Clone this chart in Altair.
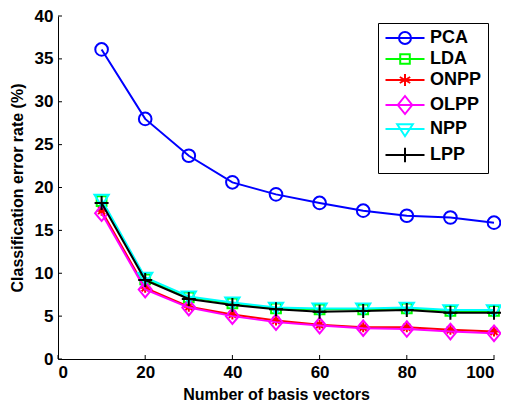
import altair as alt
import pandas as pd

x_vals = [10, 20, 30, 40, 50, 60, 70, 80, 90, 100]
methods = ["PCA", "LDA", "ONPP", "OLPP", "NPP", "LPP"]
pca = [36.1, 28.0, 23.7, 20.6, 19.2, 18.2, 17.3, 16.7, 16.5, 15.9]
lda = [18.4, 9.3, 7.2, 6.5, 5.9, 5.8, 5.8, 5.9, 5.6, 5.6]
onpp = [17.3, 8.3, 6.1, 5.2, 4.5, 4.0, 3.7, 3.7, 3.4, 3.2]
olpp = [17.0, 8.1, 6.0, 5.0, 4.3, 3.9, 3.6, 3.5, 3.2, 3.0]
npp = [18.6, 9.5, 7.3, 6.6, 6.0, 5.9, 5.9, 6.0, 5.7, 5.7]
lpp = [18.2, 9.2, 7.0, 6.3, 5.8, 5.5, 5.6, 5.7, 5.4, 5.4]
colors = ["#0000ff", "#00ff00", "#ff0000", "#ff00ff", "#00ffff", "#000000"]
x_ticks = [0, 20, 40, 60, 80, 100]
y_ticks = [0, 5, 10, 15, 20, 25, 30, 35, 40]

series = [pca, lda, onpp, olpp, npp, lpp]
rows = []
for m, vals in zip(methods, series):
    for xv, yv in zip(x_vals, vals):
        rows.append({"x": xv, "y": yv, "method": m})
df = pd.DataFrame(rows)

FONT = "Liberation Sans"

# marker shapes for the plot
marker_paths = [
    "circle",
    "M-0.75,-0.75H0.75V0.75H-0.75Z",
    "M-1,0H1M0,-1V1M-0.7,-0.7L0.7,0.7M-0.7,0.7L0.7,-0.7",
    "M0,-1.2L1,0L0,1.2L-1,0Z",
    "M-1.1,-0.75L1.1,-0.75L0,1.05Z",
    "M-1,0H1M0,-1V1",
]
marker_sizes = [160, 169, 100, 169, 169, 196]

# legend symbols: line with marker
L = "M-3.25,0H3.25"
legend_paths = [
    L + "M-1,0A1,1 0 1,0 1,0A1,1 0 1,0 -1,0",
    L + "M-0.8,-0.8H0.8V0.8H-0.8Z",
    L + "M0,-1V1M-0.87,-0.5L0.87,0.5M-0.87,0.5L0.87,-0.5",
    L + "M0,-1.5L1.2,0L0,1.5L-1.2,0Z",
    L + "M-1.3,-0.8L1.3,-0.8L0,1.2Z",
    L + "M0,-1.2V1.2",
]

xscale = alt.Scale(domain=[0, 100], nice=False, zero=False)
yscale = alt.Scale(domain=[0, 40], nice=False)

X = alt.X("x:Q", scale=xscale,
          axis=alt.Axis(values=x_ticks, title="Number of basis vectors",
                        labelPadding=5, titlePadding=6))
Y = alt.Y("y:Q", scale=yscale,
          axis=alt.Axis(values=y_ticks, title="Classification error rate (%)",
                        labelPadding=5, titlePadding=9))

leg = dict(title=None, orient="none", legendX=320, legendY=7,
           symbolSize=144, symbolStrokeWidth=2, symbolOpacity=1,
           symbolOffset=12, labelOffset=16,
           labelFont=FONT, labelFontSize=18, labelFontWeight="bold",
           labelColor="black", fillColor="white",
           strokeColor="black", padding=6, rowPadding=2)

legend_layer = alt.Chart(df).mark_point(filled=False, opacity=0, strokeWidth=2).encode(
    x=X, y=Y,
    color=alt.Color("method:N", scale=alt.Scale(domain=methods, range=colors),
                    legend=alt.Legend(**leg)),
    shape=alt.Shape("method:N", scale=alt.Scale(domain=methods, range=legend_paths),
                    legend=alt.Legend(**leg)),
)

layers = [legend_layer]
for m, c, p, s in zip(methods, colors, marker_paths, marker_sizes):
    base = alt.Chart(df).transform_filter(alt.datum.method == m)
    layers.append(base.mark_line(color=c, strokeWidth=2).encode(x=X, y=Y))
    layers.append(base.mark_point(shape=p, color=c, filled=False, size=s,
                                  strokeWidth=2, opacity=1).encode(x=X, y=Y))

ytick_df = pd.DataFrame({"v": y_ticks})
xtick_df = pd.DataFrame({"v": x_ticks})
ytick_layer = alt.Chart(ytick_df).mark_rule(color="black", strokeWidth=1).encode(
    y=alt.Y("v:Q", scale=yscale), x=alt.value(0), x2=alt.value(4))
xtick_layer = alt.Chart(xtick_df).mark_rule(color="black", strokeWidth=1).encode(
    x=alt.X("v:Q", scale=xscale), y=alt.value(343), y2=alt.value(339))
layers = [ytick_layer, xtick_layer] + layers

chart = alt.layer(*layers).resolve_scale(color="independent", shape="independent").properties(
    width=436, height=343,
    background="white",
    autosize=alt.AutoSizeParams(type="none"),
    padding={"left": 50, "top": 8, "right": 7, "bottom": 46},
).configure_view(stroke=None).configure_axis(
    grid=False, ticks=False, domainColor="black", domainWidth=1,
    labelFont=FONT, labelFontSize=17, labelFontWeight="bold", labelColor="black",
    titleFont=FONT, titleFontSize=16, titleFontWeight="bold", titleColor="black",
)

chart.save("out.html", embed_options={"renderer": "svg", "actions": False})
